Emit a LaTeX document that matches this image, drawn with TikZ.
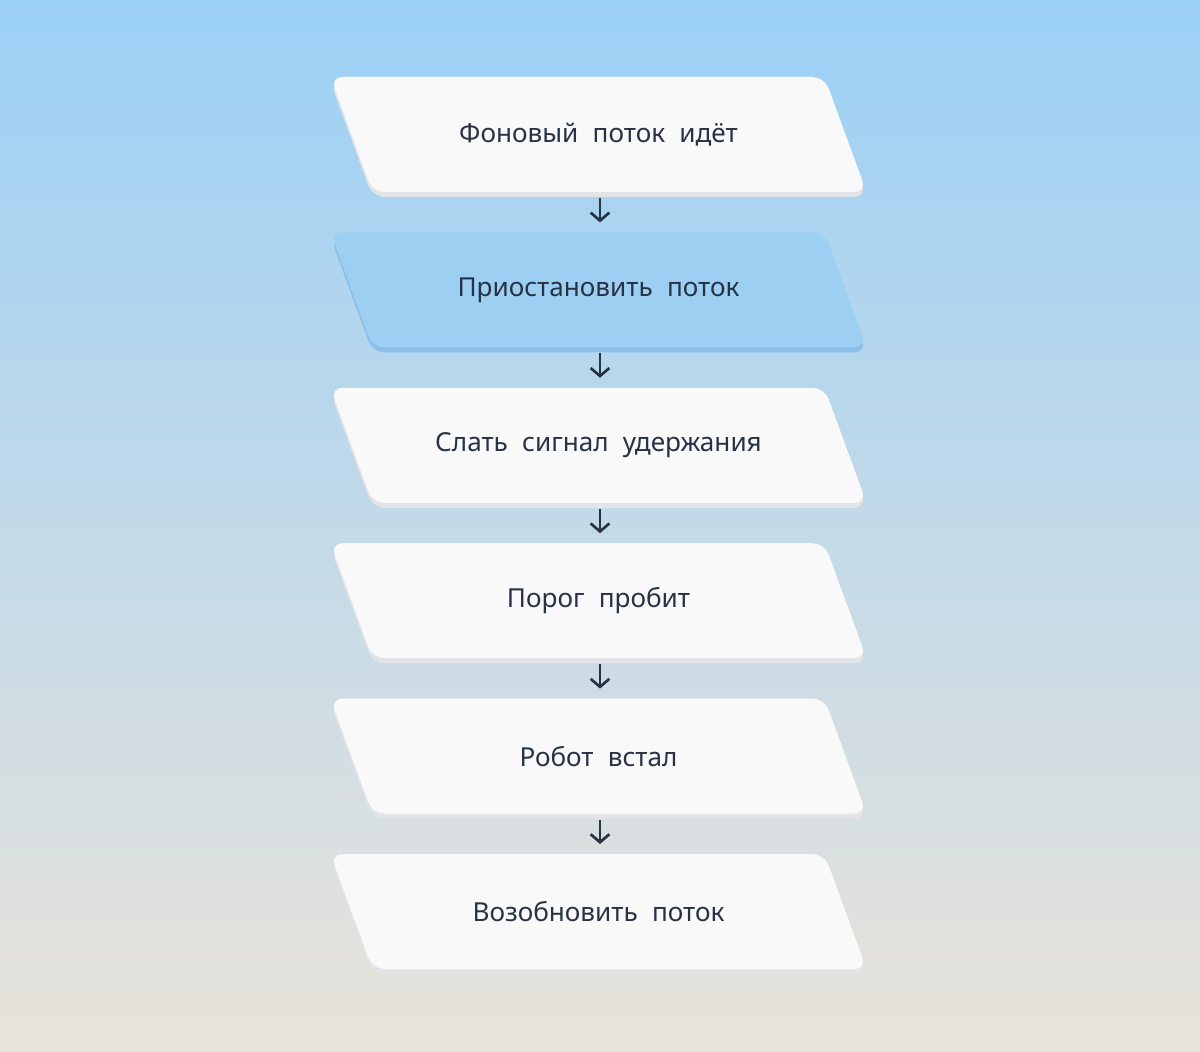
\documentclass[tikz,border=0pt]{standalone}
\usepackage{fontspec}
\setmainfont{Noto Sans}[WordSpace=2.1]
\usetikzlibrary{positioning,backgrounds,calc,arrows.meta}
\definecolor{ink}{HTML}{273244}
\definecolor{skytop}{HTML}{9BD0F6}
\definecolor{skymid}{HTML}{C3DBE8}
\definecolor{sand}{HTML}{E9E3DA}
\definecolor{plate}{HTML}{F9F9F9}
\definecolor{plateedge}{HTML}{E2E4E7}
\definecolor{hot}{HTML}{9CCFF2}
\definecolor{hotedge}{HTML}{8BBFE8}

\begin{document}
\begin{tikzpicture}[x=0.75pt, y=-0.75pt,
    node distance=30.3pt,
    stagebox/.style={inner sep=0pt, outer sep=0pt, minimum width=402pt,
        minimum height=86.25pt, text=ink, font=\fontsize{19.6pt}{23pt}\selectfont},
    flow/.style={draw=ink, line width=2pt, -{Straight Barb[length=6pt,width=14pt]},
        shorten <=4.5pt, shorten >=7.5pt}]
    \useasboundingbox (0,0) rectangle (1200,1052);

    % stages, top to bottom
    \node[stagebox] (s1) at (598.5,134.5) {Фоновый поток идёт};
    \node[stagebox, below=of s1] (s2) {Приостановить поток};
    \node[stagebox, below=of s2] (s3) {Слать сигнал удержания};
    \node[stagebox, below=of s3] (s4) {Порог пробит};
    \node[stagebox, below=of s4] (s5) {Робот встал};
    \node[stagebox, below=of s5] (s6) {Возобновить поток};

    % slanted plates behind the stages
    \begin{scope}[on background layer]
        \shade[top color=skytop, middle color=skymid, bottom color=sand]
            (0,0) rectangle (1200,1052);
        \foreach \n/\fc/\ec in {s1/plate/plateedge, s2/hot/hotedge, s3/plate/plateedge,
                s4/plate/plateedge, s5/plate/plateedge, s6/plate/plateedge} {
            \fill[\ec, rounded corners=9pt] ($(\n.north west)+(0,5)$) -- ($(\n.north east)+(-42,5)$)
                -- ($(\n.south east)+(0,5)$) -- ($(\n.south west)+(42,5)$) -- cycle;
            \fill[\fc, rounded corners=9pt] (\n.north west) -- ($(\n.north east)+(-42,0)$)
                -- (\n.south east) -- ($(\n.south west)+(42,0)$) -- cycle;
        }
    \end{scope}

    % arrows
    \foreach \a/\b in {s1/s2, s2/s3, s3/s4, s4/s5, s5/s6}
        \draw[flow] ($(\a.south)+(1.5,0)$) -- ($(\b.north)+(1.5,0)$);
\end{tikzpicture}
\end{document}
